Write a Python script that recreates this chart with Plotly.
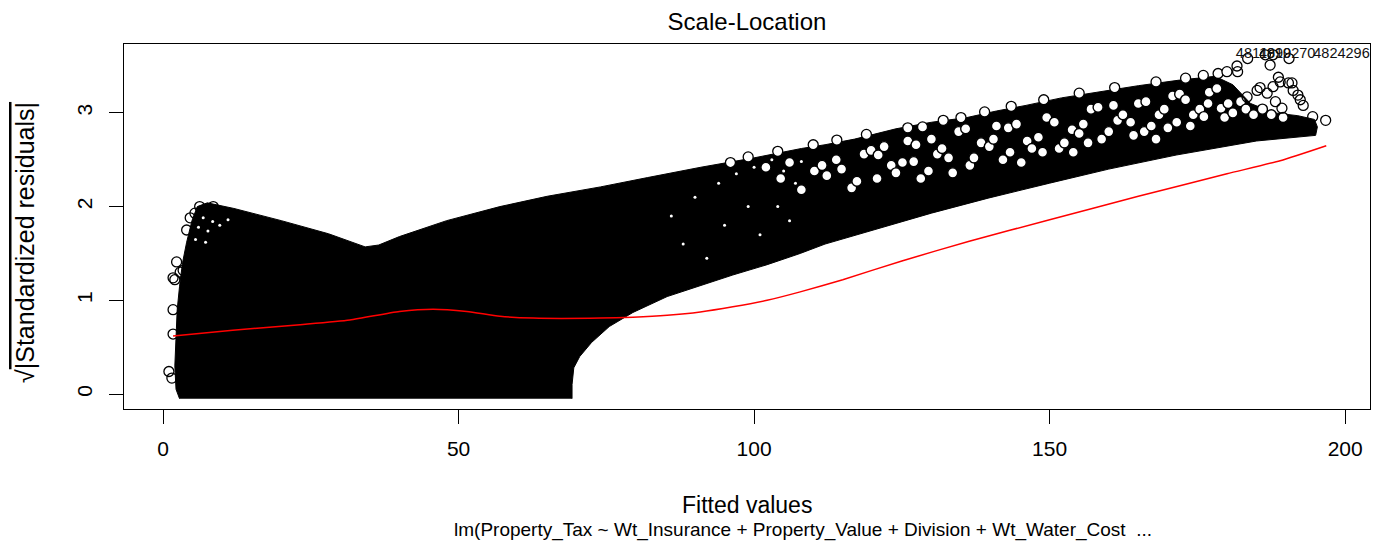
import plotly.graph_objects as go

# ---- Dense cloud outline (visual edge of the overlapping circles) ----
cloud_x = [2.8, 2.2, 2.0, 2.2, 2.4, 2.8, 3.3, 4.0, 4.9, 5.8,
           7.5, 12, 20, 28, 34.2, 36.5, 40, 48, 57, 65, 74, 82, 91, 100, 108,
           112, 117, 124, 130, 136, 141, 146, 152, 158, 165, 172, 178, 181, 184, 188, 192, 194.8,
           195.3, 195.0,
           185, 171.4, 160, 150, 139.6, 130, 120, 112, 107.8, 102.2, 96.4, 90.9, 85.3, 79.5,
           75.5, 72.5, 70.5, 69.5, 69.2, 69.2]
cloud_y = [-0.05, 0.05, 0.3, 0.6, 0.9, 1.15, 1.4, 1.62, 1.85, 2.0,
           2.04, 1.98, 1.85, 1.71, 1.57, 1.59, 1.68, 1.85, 2.0, 2.11, 2.21, 2.31, 2.42, 2.52, 2.62,
           2.66, 2.72, 2.83, 2.9, 2.95, 3.02, 3.08, 3.16, 3.22, 3.29, 3.35, 3.39, 3.30, 3.10, 3.0, 2.97, 2.93,
           2.85, 2.76,
           2.70, 2.55, 2.40, 2.25, 2.09, 1.93, 1.75, 1.60, 1.50, 1.38, 1.27, 1.16, 1.04, 0.87,
           0.72, 0.55, 0.40, 0.28, 0.10, -0.05]

# ---- small gaps inside the dense cloud ----
gap_x = [6.0, 6.8, 7.6, 8.4, 9.6, 11.0, 7.2, 5.5,
         86, 88, 90, 92, 94, 95, 97, 99, 100, 101, 103, 104, 105, 106, 107, 108]
gap_y = [1.78, 1.88, 1.74, 1.84, 1.80, 1.86, 1.62, 1.65,
         1.9, 1.6, 2.1, 1.45, 2.25, 1.8, 2.35, 2.0, 2.42, 1.7, 2.5, 2.0, 2.38, 1.85, 2.25, 2.48]

# ---- single circles visible inside the upper band (white gaps ringed in black) ----
ring_x = [102.0, 104.5, 106.0, 108.0,
          110.2, 111.5, 112.3, 113.9, 114.8, 116.5, 117.4, 118.6, 119.8, 121.0, 120.8, 122.0,
          123.2, 124.0, 125.1, 126.0, 127.0, 127.4, 128.2, 129.5, 130.0, 131.0, 131.8, 132.9,
          133.6, 134.6, 135.8, 136.5, 137.2, 138.4, 139.8, 140.5, 141.0, 142.1, 143.3, 143.0,
          144.4, 145.2, 146.2, 147.0, 148.1, 148.8, 149.5, 150.8, 151.6, 152.5, 153.8, 154.0,
          155.0, 155.7, 156.5, 157.0, 158.2, 158.8, 160.0, 160.8, 161.5, 162.4, 163.7, 164.2,
          165.0, 166.3, 166.0, 167.2, 168.0, 168.5, 169.4, 170.0, 170.8, 172.0, 173.0, 171.5,
          173.8, 174.3, 175.4, 176.1, 176.8, 177.0, 178.3, 179.0, 179.6, 180.2, 181.0, 182.3,
          183.2, 184.5, 186.0, 187.5, 189.5]
ring_y = [2.42, 2.30, 2.47, 2.18,
          2.38, 2.44, 2.33, 2.50, 2.40, 2.20, 2.27, 2.56, 2.60, 2.55, 2.30, 2.64,
          2.44, 2.36, 2.47, 2.70, 2.48, 2.66, 2.30, 2.38, 2.72, 2.56, 2.62, 2.52,
          2.36, 2.80, 2.83, 2.44, 2.52, 2.68, 2.64, 2.72, 2.86, 2.50, 2.58, 2.84,
          2.88, 2.47, 2.70, 2.62, 2.74, 2.58, 2.95, 2.90, 2.62, 2.68, 2.82, 2.58,
          2.78, 2.88, 2.68, 3.04, 3.06, 2.72, 2.80, 3.08, 2.92, 2.98, 2.90, 2.76,
          3.10, 3.12, 2.80, 2.86, 2.72, 2.98, 3.04, 2.84, 3.18, 3.20, 3.14, 2.90,
          2.86, 2.98, 3.04, 2.96, 3.10, 3.22, 3.26, 3.05, 2.95, 3.10, 3.00, 3.12,
          3.04, 2.98, 3.04, 2.98, 2.95]

# ---- circles on the upper edge of the band ----
rim_x = [96, 99, 104, 110, 114, 119, 126, 128.5, 132, 135, 139, 143.5, 149, 155, 161, 168,
         173, 176, 178.5, 180.0]
rim_y = [2.47, 2.53, 2.59, 2.66, 2.71, 2.77, 2.84, 2.85, 2.92, 2.95, 3.01, 3.07, 3.14, 3.21,
         3.27, 3.33, 3.37, 3.40, 3.42, 3.44]

# ---- isolated circles at the fringe of the cloud ----
edge_x = [1.0, 1.5, 1.7, 1.7, 2.0, 1.7, 2.3, 2.9, 3.4, 4.0, 4.6, 5.4, 6.2, 8.5,
          181.8, 181.7, 186.5, 187.8, 187.3, 188.7, 190.4, 191.2, 192.0, 192.4, 192.9,
          185.6, 187.8, 189.0, 191.0, 189.3, 188.2, 186.8, 185.1, 183.4, 196.7, 194.5,
          183.5, 190.5]
edge_y = [0.24, 0.17, 0.64, 0.90, 1.22, 1.24, 1.41, 1.30, 1.32, 1.75, 1.88, 1.93, 2.00, 2.00,
          3.44, 3.50, 3.62, 3.62, 3.51, 3.38, 3.32, 3.24, 3.19, 3.14, 3.08,
          3.27, 3.28, 3.33, 3.32, 3.05, 3.12, 3.21, 3.24, 3.17, 2.92, 2.96,
          3.58, 3.58]

# ---- smoother (red) ----
smooth_x = [1.7, 11.8, 23.2, 31.6, 40.0, 45.7, 51.4, 57.0, 62.6, 74.0, 79.5, 85.3, 90.9,
            96.4, 102.2, 107.8, 115, 125, 136.4, 150, 165, 180, 189, 196.8]
smooth_y = [0.62, 0.68, 0.74, 0.79, 0.88, 0.905, 0.88, 0.83, 0.81, 0.81, 0.82, 0.84, 0.875,
            0.93, 1.00, 1.09, 1.22, 1.42, 1.63, 1.86, 2.11, 2.35, 2.49, 2.65]

# ---- labelled extreme points ----
label_text = ["4811990", "4819270", "4824296"]
label_x = [181.5, 185.4, 194.6]
label_y = [3.62, 3.62, 3.62]

x_ticks = [0, 50, 100, 150, 200]
y_ticks = [0, 1, 2, 3]

FONT = "Liberation Sans"
FS = 21

fig = go.Figure()
fig.add_trace(go.Scatter(x=cloud_x, y=cloud_y, mode="lines", fill="toself",
                         fillcolor="black", line=dict(color="black", width=1),
                         hoverinfo="skip", showlegend=False))
fig.add_trace(go.Scatter(x=gap_x, y=gap_y, mode="markers",
                         marker=dict(color="white", size=3, line=dict(width=0)),
                         hoverinfo="skip", showlegend=False))
fig.add_trace(go.Scatter(x=ring_x, y=ring_y, mode="markers",
                         marker=dict(symbol="circle", color="white", size=10,
                                     line=dict(color="black", width=1.4)),
                         showlegend=False))
fig.add_trace(go.Scatter(x=rim_x, y=rim_y, mode="markers",
                         marker=dict(symbol="circle", color="white", size=10,
                                     line=dict(color="black", width=1.3)),
                         showlegend=False))
fig.add_trace(go.Scatter(x=edge_x, y=edge_y, mode="markers",
                         marker=dict(symbol="circle-open", color="black", size=10,
                                     line=dict(color="black", width=1.3)),
                         showlegend=False))
fig.add_trace(go.Scatter(x=smooth_x, y=smooth_y, mode="lines",
                         line=dict(color="red", width=1.5, shape="spline", smoothing=0.6),
                         showlegend=False))
fig.add_trace(go.Scatter(x=label_x, y=label_y, mode="text", text=label_text,
                         textposition="middle right", cliponaxis=False,
                         textfont=dict(family=FONT, size=14.5, color="#111"),
                         showlegend=False))

axis_common = dict(showgrid=False, zeroline=False, showline=True, mirror=True,
                   linecolor="black", linewidth=1, ticks="outside", ticklen=14,
                   tickcolor="black", tickwidth=1,
                   tickfont=dict(family=FONT, size=FS, color="black"))

fig.update_layout(
    width=1381, height=555,
    margin=dict(l=124, r=11, t=44, b=146),
    paper_bgcolor="white", plot_bgcolor="white",
    title=dict(text="Scale-Location", x=0.5, xref="paper", xanchor="center",
               y=1 - 22 / 555, yref="container", yanchor="middle",
               font=dict(family=FONT, size=24, color="black")),
    xaxis=dict(range=[-6.6, 204.2], tickvals=x_ticks, ticklabelstandoff=7, **axis_common),
    yaxis=dict(range=[-0.16, 3.735], tickvals=y_ticks, tickangle=-90,
               ticklabelstandoff=9, **axis_common),
    annotations=[
        dict(text="Fitted values", xref="paper", yref="paper", x=0.5, y=(409 - 505) / 365,
             xanchor="center", yanchor="middle", showarrow=False,
             font=dict(family=FONT, size=23, color="black")),
        dict(text="lm(Property_Tax ~ Wt_Insurance + Property_Value + Division + Wt_Water_Cost  ...",
             xref="paper", yref="paper", x=(803 - 124) / 1246, y=(409 - 530) / 365,
             xanchor="center", yanchor="middle", showarrow=False,
             font=dict(family=FONT, size=19, color="black")),
        dict(text="√<span style='text-decoration:overline'>|Standardized residuals|</span>",
             xref="paper", yref="paper", x=(25 - 124) / 1246, y=(409 - 242) / 365,
             xanchor="center", yanchor="middle", textangle=-90, showarrow=False,
             font=dict(family=FONT, size=25, color="black")),
    ],
)

fig.write_html("out.html")
